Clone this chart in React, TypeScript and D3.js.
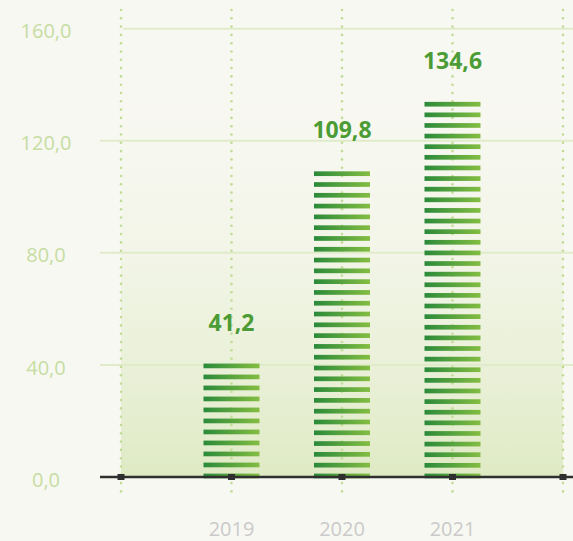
import React from "react"
import * as d3 from "d3"

const categories = ["2019", "2020", "2021"]
const values = [41.2, 109.8, 134.6]
const yTicks = [0, 40, 80, 120, 160]

const W = 573
const H = 541

export default function App() {
  // Dimensions
  const left = 121
  const right = 563
  const top = 28.7
  const bottom = 477

  // Scales
  const x = d3.scalePoint<string>().domain(categories).range([left, right]).padding(1)
  const y = d3.scaleLinear().domain([0, 160]).range([bottom, top])
  const fmt = (v: number) => d3.format(".1f")(v).replace(".", ",")

  const vLines = [left, ...categories.map(c => x(c) as number), right]
  const dots = d3.range(10, 499, 8.3)

  const barW = 56
  const stripeH = 4.7
  const font = "'Open Sans', 'Noto Sans', sans-serif"

  return (
    <svg width={W} height={H} style={{ position: "fixed", left: 0, top: 0, display: "block" }}>
      <defs>
        <linearGradient id="area" x1="0" y1="0" x2="0" y2="1">
          <stop offset="0" stopColor="#f8f9f3" stopOpacity={0} />
          <stop offset="1" stopColor="#dfeac4" />
        </linearGradient>
        <linearGradient id="bar" x1="0" y1="0" x2="1" y2="0">
          <stop offset="0" stopColor="#2a8a3a" />
          <stop offset="1" stopColor="#84bd42" />
        </linearGradient>
      </defs>
      <rect width={W} height={H} fill="#f8f8f2" />
      <rect x={left} y={top} width={right - left} height={bottom - top} fill="url(#area)" />

      {/* grid */}
      {yTicks.map((t, i) => (
        <line key={t} x1={i === yTicks.length - 1 ? left + 2 : 100} x2={W} y1={y(t)} y2={y(t)}
          stroke="#e0ebc9" strokeWidth={2} />
      ))}
      {yTicks.map(t => (
        <text key={t} x={46} y={y(t) + 9.6} textAnchor="middle" fontFamily={font} fontSize={20}
          fill="#c6dda2">{fmt(t)}</text>
      ))}

      {/* dotted verticals */}
      {vLines.map((vx, i) => (
        <g key={i}>
          {dots.map(dy => (
            <circle key={dy} cx={vx} cy={dy} r={1.3} fill="#c2dc98" />
          ))}
        </g>
      ))}

      {/* bars */}
      {values.map((v, i) => {
        const cx = x(categories[i]) as number
        const t0 = y(v) + 2
        const span = y(0) + 1.3 - t0 - stripeH
        const n = Math.round(span / 10.7)
        const p = span / n
        return (
          <g key={i}>
            {d3.range(n + 1).map(k => (
              <rect key={k} x={cx - barW / 2} y={t0 + k * p} width={barW} height={stripeH}
                fill="url(#bar)" />
            ))}
            <text x={cx} y={y(v) - 31} textAnchor="middle" fontFamily={font} fontWeight={700}
              fontSize={23} fill="#4c9c36">{fmt(v)}</text>
          </g>
        )
      })}

      {/* baseline */}
      <line x1={100} x2={W} y1={bottom} y2={bottom} stroke="#2f2f2f" strokeWidth={2.7} />
      {vLines.map((vx, i) => (
        <rect key={i} x={vx - 3.5} y={bottom - 3} width={7} height={6} fill="#2f2f2f" />
      ))}

      {categories.map(c => (
        <text key={c} x={x(c) as number} y={536} textAnchor="middle" fontFamily={font} fontSize={20}
          fill="#cacaca">{c}</text>
      ))}
    </svg>
  )
}
